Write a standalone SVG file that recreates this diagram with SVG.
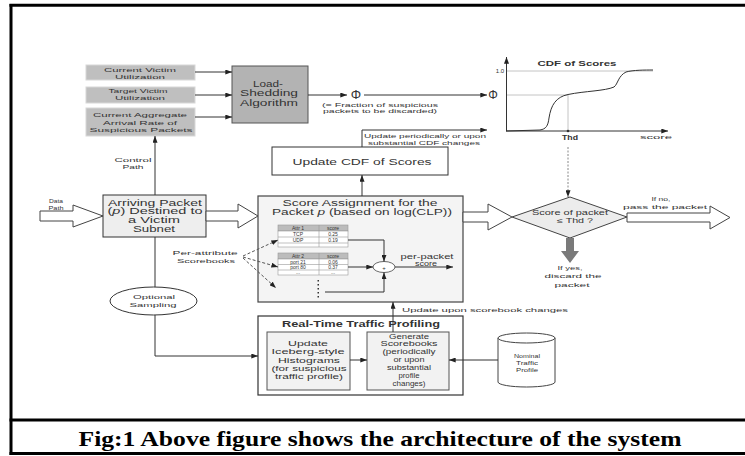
<svg xmlns="http://www.w3.org/2000/svg" width="745" height="456" viewBox="0 0 745 456">
  <style>
    .t { font-family: "Liberation Sans", Arial, sans-serif; fill: #333; text-anchor: middle; }
    .s7 { font-size: 6.5px; }
    .s6 { font-size: 6px; }
    .s5 { font-size: 5px; }
    .s9 { font-size: 8.5px; }
    .s10 { font-size: 9px; }
    .b { font-weight: bold; }
    .ln { fill: none; stroke: #333; stroke-width: 1; }
    .ah { fill: none; stroke: #333; stroke-width: 1; marker-end: url(#arr); }
    .guide { fill: none; stroke: #c4c4c4; stroke-width: 1; }
    .dash { fill: none; stroke: #555; stroke-width: 1; stroke-dasharray: 3 2; marker-end: url(#arr); }
    .hollow { fill: #fff; stroke: #444; stroke-width: 1; }
    .input { fill: #bfbfbf; stroke: #d8d8d8; stroke-width: 1; }
    .frame { stroke: #000; stroke-width: 3; }
  </style>
  <defs>
    <marker id="arr" viewBox="0 0 8 6" refX="8" refY="3" markerWidth="7" markerHeight="5" markerUnits="userSpaceOnUse" orient="auto">
      <path d="M0,0 L8,3 L0,6 z" fill="#222"/>
    </marker>
  </defs>

  <rect width="745" height="456" fill="#fff"/>

  <!-- page frame and caption -->
  <g id="frame">
    <line class="frame" x1="9.5" y1="5.3" x2="745" y2="5.3"/>
    <line class="frame" x1="11" y1="4" x2="11" y2="455"/>
    <line class="frame" x1="9.5" y1="420" x2="745" y2="420"/>
    <line class="frame" x1="9.5" y1="453.5" x2="745" y2="453.5"/>
    <text x="380" y="446" font-family="'Liberation Serif', 'Times New Roman', serif" font-weight="bold" font-size="21" text-anchor="middle" textLength="603" lengthAdjust="spacingAndGlyphs" fill="#000">Fig:1 Above figure shows the architecture of the system</text>
  </g>

  <!-- load-shedding inputs -->
  <g id="victim-utilization">
    <rect class="input" x="86" y="65" width="109" height="15"/>
    <text class="t s6" x="140" y="72" textLength="72" lengthAdjust="spacingAndGlyphs">Current Victim</text>
    <text class="t s6" x="140" y="78.5" textLength="50" lengthAdjust="spacingAndGlyphs">Utilization</text>
  </g>
  <g id="target-utilization">
    <rect class="input" x="86" y="87" width="109" height="16"/>
    <text class="t s6" x="138" y="93" textLength="59" lengthAdjust="spacingAndGlyphs">Target Victim</text>
    <text class="t s6" x="140" y="100" textLength="50" lengthAdjust="spacingAndGlyphs">Utilization</text>
  </g>
  <g id="arrival-rate">
    <rect class="input" x="86" y="108" width="109" height="28"/>
    <text class="t s6" x="140" y="117" textLength="94" lengthAdjust="spacingAndGlyphs">Current Aggregate</text>
    <text class="t s6" x="140" y="124.5" textLength="74" lengthAdjust="spacingAndGlyphs">Arrival Rate of</text>
    <text class="t s6" x="141" y="132" textLength="103" lengthAdjust="spacingAndGlyphs">Suspicious Packets</text>
  </g>

  <g id="load-shedding">
    <rect x="232" y="66" width="76" height="57" fill="#b3b3b3" stroke="#555" stroke-width="1"/>
    <text class="t s10" x="268" y="86.5" textLength="30" lengthAdjust="spacingAndGlyphs">Load-</text>
    <text class="t s10" x="269" y="96" textLength="58" lengthAdjust="spacingAndGlyphs">Shedding</text>
    <text class="t s10" x="269" y="105.5" textLength="58" lengthAdjust="spacingAndGlyphs">Algorithm</text>
  </g>

  <g id="phi-label">
    <text class="t" x="356" y="99" font-size="13">Φ</text>
    <text class="t s6" x="380" y="106.5" textLength="116" lengthAdjust="spacingAndGlyphs">(= Fraction of suspicious</text>
    <text class="t s6" x="380" y="112.5" textLength="114" lengthAdjust="spacingAndGlyphs">packets to be discarded)</text>
  </g>

  <!-- CDF plot -->
  <g id="cdf-plot">
    <line class="guide" x1="506" y1="71" x2="653" y2="71"/>
    <line class="guide" x1="506" y1="95" x2="568" y2="95"/>
    <line class="guide" x1="568" y1="95" x2="568" y2="131"/>
    <line class="ah" x1="506.5" y1="131" x2="506.5" y2="57"/>
    <line class="ah" x1="506" y1="131" x2="668" y2="131"/>
    <path class="ln" d="M506,131 L540,130 C546,129 548,126 549,118 C551,105 556,97 568,94.5 C585,91 605,91 614,87 C618,84 618,76 626,72 C633,70 645,70 653,70"/>
    <circle cx="568" cy="131" r="1.3" fill="#333"/>
    <text class="t b" x="577" y="66" font-size="7.5" textLength="79" lengthAdjust="spacingAndGlyphs">CDF of Scores</text>
    <text class="t s6" x="500" y="73">1.0</text>
    <text class="t" x="493" y="99" font-size="12">Φ</text>
    <text class="t b" x="570" y="140" font-size="6.5" textLength="16" lengthAdjust="spacingAndGlyphs">Thd</text>
    <text class="t s6" x="656" y="139" textLength="32" lengthAdjust="spacingAndGlyphs">score</text>
  </g>

  <g id="update-cdf">
    <rect x="272" y="147" width="176" height="28" fill="#fff" stroke="#333" stroke-width="1"/>
    <text class="t s9" x="362" y="164.5" textLength="139" lengthAdjust="spacingAndGlyphs">Update CDF of Scores</text>
  </g>
  <g id="cdf-update-label">
    <text class="t s6" x="425" y="137.5" textLength="122" lengthAdjust="spacingAndGlyphs">Update periodically or upon</text>
    <text class="t s6" x="424" y="145" textLength="112" lengthAdjust="spacingAndGlyphs">substantial CDF changes</text>
  </g>

  <!-- data path -->
  <g id="data-path">
    <polygon class="hollow" points="40,211 73,211 73,205 103,216 73,227 73,221 40,221"/>
    <text class="t s6" x="56" y="203" textLength="14" lengthAdjust="spacingAndGlyphs">Data</text>
    <text class="t s6" x="56" y="210" textLength="15" lengthAdjust="spacingAndGlyphs">Path</text>
  </g>

  <g id="arriving-packet">
    <rect x="103" y="195" width="103" height="42" fill="#eeeeee" stroke="#333" stroke-width="1"/>
    <text class="t s9" x="155" y="205.5" textLength="94" lengthAdjust="spacingAndGlyphs">Arriving Packet</text>
    <text class="t s9" x="155" y="214" textLength="95" lengthAdjust="spacingAndGlyphs">(<tspan font-style="italic">p</tspan>) Destined to</text>
    <text class="t s9" x="154" y="222.5" textLength="52" lengthAdjust="spacingAndGlyphs">a Victim</text>
    <text class="t s9" x="154" y="231.5" textLength="42" lengthAdjust="spacingAndGlyphs">Subnet</text>
  </g>

  <g id="control-path-label">
    <text class="t s6" x="133" y="162" textLength="37" lengthAdjust="spacingAndGlyphs">Control</text>
    <text class="t s6" x="133" y="168.5" textLength="21" lengthAdjust="spacingAndGlyphs">Path</text>
  </g>

  <g id="optional-sampling">
    <ellipse cx="153.5" cy="301" rx="43.5" ry="14" fill="#fff" stroke="#333" stroke-width="1"/>
    <text class="t s6" x="154" y="299" textLength="42" lengthAdjust="spacingAndGlyphs">Optional</text>
    <text class="t s6" x="153" y="307" textLength="47" lengthAdjust="spacingAndGlyphs">Sampling</text>
  </g>

  <!-- score assignment -->
  <g id="score-assignment">
    <rect x="258" y="196" width="205" height="106" fill="#f4f4f4" stroke="#444" stroke-width="1.2"/>
    <text class="t s9" x="360" y="206" textLength="155" lengthAdjust="spacingAndGlyphs">Score Assignment for the</text>
    <text class="t s9" x="362" y="215" textLength="180" lengthAdjust="spacingAndGlyphs">Packet <tspan font-style="italic">p</tspan> (based on log(CLP))</text>

    <g id="scorebook-attr1">
      <rect x="278" y="225" width="70" height="6" fill="#bcbcbc" stroke="#999" stroke-width="0.6"/>
      <rect x="278" y="231" width="70" height="16" fill="#fff" stroke="#999" stroke-width="0.6"/>
      <line x1="278" y1="237" x2="348" y2="237" stroke="#999" stroke-width="0.6"/>
      <line x1="278" y1="243" x2="348" y2="243" stroke="#999" stroke-width="0.6"/>
      <line x1="319" y1="225" x2="319" y2="247" stroke="#999" stroke-width="0.6"/>
      <text class="t s5" x="298" y="230">Attr 1</text>
      <text class="t s5" x="333" y="230">score</text>
      <text class="t s5" x="298" y="236">TCP</text>
      <text class="t s5" x="333" y="236">0.25</text>
      <text class="t s5" x="298" y="242">UDP</text>
      <text class="t s5" x="333" y="242">0.19</text>
    </g>
    <g id="scorebook-attr2">
      <rect x="278" y="253" width="70" height="6" fill="#bcbcbc" stroke="#999" stroke-width="0.6"/>
      <rect x="278" y="259" width="70" height="16" fill="#fff" stroke="#999" stroke-width="0.6"/>
      <line x1="278" y1="264.5" x2="348" y2="264.5" stroke="#999" stroke-width="0.6"/>
      <line x1="278" y1="270" x2="348" y2="270" stroke="#999" stroke-width="0.6"/>
      <line x1="319" y1="253" x2="319" y2="275" stroke="#999" stroke-width="0.6"/>
      <text class="t s5" x="298" y="258">Attr 2</text>
      <text class="t s5" x="333" y="258">score</text>
      <text class="t s5" x="298" y="263.5">port 21</text>
      <text class="t s5" x="333" y="263.5">0.06</text>
      <text class="t s5" x="298" y="269">port 80</text>
      <text class="t s5" x="333" y="269">0.37</text>
      <text class="t s5" x="298" y="274">...</text>
      <text class="t s5" x="333" y="274">...</text>
    </g>
    <g id="more-scorebooks" fill="#333">
      <rect x="317.5" y="280" width="1.5" height="1.5"/>
      <rect x="317.5" y="284" width="1.5" height="1.5"/>
      <rect x="317.5" y="288" width="1.5" height="1.5"/>
      <rect x="317.5" y="292" width="1.5" height="1.5"/>
      <rect x="317.5" y="296" width="1.5" height="1.5"/>
    </g>
    <ellipse cx="384" cy="267" rx="11" ry="5.5" fill="#fff" stroke="#444" stroke-width="0.8"/>
    <text class="t s6" x="384" y="269.5">+</text>
    <text class="t s7" x="427" y="258.5" textLength="53" lengthAdjust="spacingAndGlyphs">per-packet</text>
    <text class="t s7" x="426" y="265.5" textLength="22" lengthAdjust="spacingAndGlyphs">score</text>
  </g>

  <g id="per-attribute-label">
    <text class="t s6" x="205" y="255" textLength="65" lengthAdjust="spacingAndGlyphs">Per-attribute</text>
    <text class="t s6" x="206" y="263" textLength="58" lengthAdjust="spacingAndGlyphs">Scorebooks</text>
  </g>

  <!-- traffic profiling -->
  <g id="traffic-profiling">
    <rect x="258" y="316" width="205" height="79" fill="#fff" stroke="#333" stroke-width="1.2"/>
    <text class="t s9 b" x="361" y="327" textLength="158" lengthAdjust="spacingAndGlyphs">Real-Time Traffic Profiling</text>
  </g>
  <g id="update-histograms">
    <rect x="267" y="332" width="83" height="58" fill="#f2f2f2" stroke="#555" stroke-width="1"/>
    <text class="t s7" x="308" y="346" textLength="40" lengthAdjust="spacingAndGlyphs">Update</text>
    <text class="t s7" x="308" y="354" textLength="73" lengthAdjust="spacingAndGlyphs">Iceberg-style</text>
    <text class="t s7" x="309" y="362.5" textLength="62" lengthAdjust="spacingAndGlyphs">Histograms</text>
    <text class="t s7" x="309" y="371" textLength="75" lengthAdjust="spacingAndGlyphs">(for suspicious</text>
    <text class="t s7" x="309" y="379" textLength="68" lengthAdjust="spacingAndGlyphs">traffic profile)</text>
  </g>
  <g id="generate-scorebooks">
    <rect x="367" y="332" width="82" height="58" fill="#f2f2f2" stroke="#555" stroke-width="1"/>
    <text class="t s7" x="409" y="338.5" textLength="40" lengthAdjust="spacingAndGlyphs">Generate</text>
    <text class="t s7" x="409" y="346" textLength="57" lengthAdjust="spacingAndGlyphs">Scorebooks</text>
    <text class="t s7" x="409" y="354" textLength="53" lengthAdjust="spacingAndGlyphs">(periodically</text>
    <text class="t s7" x="409" y="361.5" textLength="31" lengthAdjust="spacingAndGlyphs">or upon</text>
    <text class="t s7" x="409" y="370" textLength="44" lengthAdjust="spacingAndGlyphs">substantial</text>
    <text class="t s7" x="409" y="377.5" textLength="21" lengthAdjust="spacingAndGlyphs">profile</text>
    <text class="t s7" x="409" y="385.5" textLength="33" lengthAdjust="spacingAndGlyphs">changes)</text>
  </g>
  <g id="update-scorebook-label">
    <text class="t s6" x="485" y="312" textLength="166" lengthAdjust="spacingAndGlyphs">Update upon scorebook changes</text>
  </g>

  <g id="nominal-profile">
    <path d="M498,338 L498,382 A28.5,5 0 0 0 555,382 L555,338" fill="#fff" stroke="#444" stroke-width="1"/>
    <ellipse cx="526.5" cy="338" rx="28.5" ry="5" fill="#fff" stroke="#444" stroke-width="1"/>
    <text class="t s6" x="527" y="358" textLength="26" lengthAdjust="spacingAndGlyphs">Nominal</text>
    <text class="t s6" x="527" y="365" textLength="22" lengthAdjust="spacingAndGlyphs">Traffic</text>
    <text class="t s6" x="527" y="372" textLength="22" lengthAdjust="spacingAndGlyphs">Profile</text>
  </g>

  <!-- threshold decision -->
  <g id="threshold-test">
    <polygon points="512,217 570,197 627,217 570,238" fill="#ececec" stroke="#444" stroke-width="1"/>
    <text class="t s7" x="570" y="215" textLength="76" lengthAdjust="spacingAndGlyphs">Score of packet</text>
    <text class="t s7" x="575" y="223" textLength="36" lengthAdjust="spacingAndGlyphs">≤ Thd ?</text>
  </g>
  <g id="pass-label">
    <text class="t s6" x="661" y="201" textLength="19" lengthAdjust="spacingAndGlyphs">If no,</text>
    <text class="t s6" x="665" y="209" textLength="84" lengthAdjust="spacingAndGlyphs">pass the packet</text>
  </g>
  <g id="discard-label">
    <text class="t s6" x="570" y="270" textLength="25" lengthAdjust="spacingAndGlyphs">If yes,</text>
    <text class="t s6" x="573" y="278" textLength="57" lengthAdjust="spacingAndGlyphs">discard the</text>
    <text class="t s6" x="572" y="286.5" textLength="35" lengthAdjust="spacingAndGlyphs">packet</text>
  </g>

  <!-- connectors -->
  <g id="connectors">
    <line class="ah" x1="195" y1="72" x2="232" y2="72"/>
    <line class="ah" x1="195" y1="95" x2="232" y2="95"/>
    <line class="ah" x1="195" y1="117" x2="232" y2="117"/>
    <line class="ah" x1="308" y1="95" x2="347" y2="95"/>
    <line class="ah" x1="364" y1="95" x2="487" y2="95"/>
    <polyline class="ah" points="362,147 362,130 487,130"/>
    <line class="ah" x1="362" y1="196" x2="362" y2="175"/>
    <line class="ah" x1="155" y1="195" x2="155" y2="136"/>
    <line class="ln" x1="155" y1="237" x2="155" y2="287"/>
    <polyline class="ah" points="155,315 155,356 258,356"/>
    <line class="ah" x1="350" y1="360" x2="367" y2="360"/>
    <line class="ah" x1="498" y1="360" x2="449" y2="360"/>
    <line class="ah" x1="393" y1="332" x2="393" y2="302"/>
    <line x1="568" y1="147" x2="568" y2="197" stroke="#888" stroke-width="1" stroke-dasharray="2 1.5" marker-end="url(#arr)"/>

    <!-- scorebook lookups -->
    <path class="dash" d="M243,256 L278,240"/>
    <path class="dash" d="M243,257 L278,267"/>
    <path class="dash" d="M243,258 L276,288"/>

    <!-- score combination -->
    <polyline class="ah" points="348,240 384,240 384,261.5"/>
    <line class="ah" x1="348" y1="267" x2="373" y2="267"/>
    <polyline class="ah" points="325,292 384,292 384,272.5"/>
    <line class="ah" x1="395" y1="267" x2="453" y2="267"/>

    <!-- packet flow -->
    <polygon class="hollow" points="206,211 238,211 238,204 258,216 238,228 238,221 206,221"/>
    <polygon class="hollow" points="463,212 488,212 488,204 512,217 488,230 488,222 463,222"/>
    <polygon class="hollow" points="627,213 710,213 710,206 730,217.5 710,229 710,222 627,222"/>
    <polygon points="566,238 574,238 574,251 579,251 570,263 561,251 566,251" fill="#7a7a7a"/>
  </g>
</svg>
